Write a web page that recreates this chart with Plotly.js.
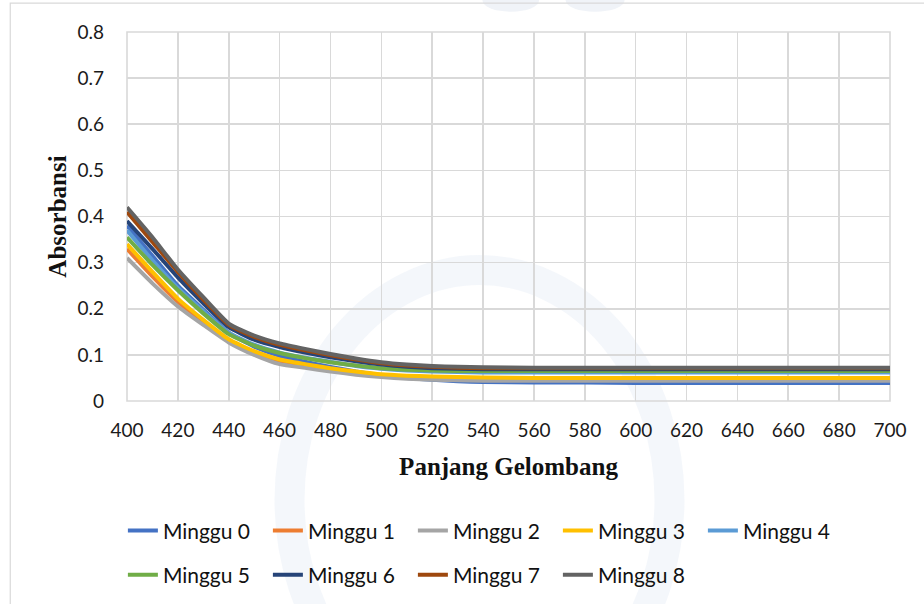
<!DOCTYPE html>
<html>
<head>
<meta charset="utf-8">
<script src="https://cdn.plot.ly/plotly-3.0.1.min.js"></script>
<style>html,body{margin:0;padding:0;background:#fff;}#chart{width:924px;height:604px;}</style>
</head>
<body>
<div id="chart"></div>
<script>
const wavelength = [400,410,420,430,440,450,460,470,480,490,500,510,520,530,540,560,580,600,620,640,660,680,700];
const seriesNames = ["Minggu 0","Minggu 1","Minggu 2","Minggu 3","Minggu 4","Minggu 5","Minggu 6","Minggu 7","Minggu 8"];
const minggu0 = [0.380,0.315,0.250,0.198,0.148,0.118,0.098,0.085,0.074,0.064,0.056,0.050,0.046,0.043,0.041,0.040,0.040,0.039,0.039,0.039,0.039,0.039,0.039];
const minggu1 = [0.330,0.270,0.215,0.170,0.130,0.104,0.086,0.076,0.068,0.061,0.056,0.052,0.050,0.049,0.048,0.047,0.047,0.047,0.047,0.047,0.047,0.047,0.047];
const minggu2 = [0.310,0.255,0.205,0.165,0.127,0.100,0.080,0.072,0.064,0.057,0.052,0.048,0.046,0.045,0.044,0.044,0.044,0.044,0.044,0.044,0.044,0.044,0.044];
const minggu3 = [0.340,0.280,0.222,0.176,0.134,0.108,0.090,0.080,0.071,0.064,0.058,0.055,0.053,0.052,0.051,0.050,0.050,0.050,0.050,0.050,0.050,0.050,0.050];
const minggu4 = [0.370,0.305,0.245,0.195,0.148,0.122,0.105,0.094,0.085,0.076,0.070,0.066,0.064,0.063,0.062,0.062,0.062,0.062,0.062,0.062,0.062,0.062,0.062];
const minggu5 = [0.355,0.295,0.240,0.190,0.145,0.120,0.104,0.093,0.084,0.077,0.071,0.068,0.066,0.065,0.065,0.065,0.065,0.065,0.065,0.065,0.065,0.065,0.065];
const minggu6 = [0.390,0.330,0.268,0.212,0.160,0.133,0.117,0.105,0.095,0.086,0.079,0.074,0.071,0.070,0.069,0.069,0.069,0.069,0.069,0.069,0.069,0.069,0.069];
const minggu7 = [0.410,0.345,0.280,0.220,0.165,0.139,0.122,0.110,0.099,0.090,0.082,0.077,0.074,0.072,0.071,0.071,0.071,0.071,0.071,0.071,0.071,0.071,0.071];
const minggu8 = [0.420,0.355,0.285,0.225,0.168,0.142,0.125,0.113,0.102,0.092,0.084,0.079,0.076,0.074,0.073,0.072,0.072,0.072,0.072,0.072,0.072,0.072,0.072];
const allSeries = [minggu0,minggu1,minggu2,minggu3,minggu4,minggu5,minggu6,minggu7,minggu8];
const colors = ["#4472C4","#ED7D31","#A5A5A5","#FFC000","#5B9BD5","#70AD47","#264478","#9E480E","#636363"];

const traces = allSeries.map((ys, i) => ({
  type: "scatter", mode: "lines", x: wavelength, y: ys, name: seriesNames[i],
  legend: i < 5 ? "legend" : "legend2",
  line: {color: colors[i], width: 4, shape: "spline", smoothing: 0.5}
}));

const gridColor = "#d9d9d9";
const tickFont = {family: "Lato, 'Open Sans', sans-serif", size: 19, color: "#1a1a1a"};
const titleFont = {family: "'Liberation Serif', 'Times New Roman', serif", size: 25, color: "#111", weight: "bold"};
const legendFont = {family: "Lato, 'Open Sans', sans-serif", size: 21, color: "#111"};
const legendBase = {orientation: "h", x: 0.133, xref: "container", xanchor: "left", yanchor: "middle", yref: "container",
  font: legendFont, entrywidth: 100, entrywidthmode: "pixels", bgcolor: "rgba(0,0,0,0)"};

const layout = {
  width: 924, height: 604,
  paper_bgcolor: "#ffffff", plot_bgcolor: "rgba(0,0,0,0)",
  margin: {l: 127, r: 34, t: 32, b: 203},
  font: tickFont,
  showlegend: true,
  legend: Object.assign({}, legendBase, {y: 0.121}),
  legend2: Object.assign({}, legendBase, {y: 0.048}),
  xaxis: {
    range: [400, 700], dtick: 20, tick0: 400,
    showgrid: true, gridcolor: gridColor, gridwidth: 1.6,
    showline: false, zeroline: false, ticks: "", ticklabelstandoff: 16,
    tickfont: tickFont, automargin: false,
    title: {text: "Panjang Gelombang", font: titleFont, standoff: 17}
  },
  yaxis: {
    range: [0, 0.8], dtick: 0.1, tick0: 0,
    showgrid: true, gridcolor: gridColor, gridwidth: 1.6,
    showline: false, zeroline: false, ticks: "", ticklabelstandoff: 22,
    tickformat: "~g", tickfont: tickFont, automargin: false,
    title: {text: "Absorbansi", font: titleFont, standoff: 3}
  },
  shapes: [
    {type: "circle", xref: "paper", yref: "paper", x0: 0.213, x1: 0.711, y0: -0.892, y1: 0.355, line: {color: "rgba(215,225,240,0.28)", width: 30}, layer: "below"},
    {type: "circle", xref: "paper", yref: "paper", x0: 0.466, x1: 0.54, y0: 1.115, y1: 1.055, fillcolor: "rgba(225,232,242,0.5)", line: {width: 0}, layer: "below"},
    {type: "circle", xref: "paper", yref: "paper", x0: 0.575, x1: 0.652, y0: 1.115, y1: 1.055, fillcolor: "rgba(225,232,242,0.5)", line: {width: 0}, layer: "below"},
    {type: "rect", xref: "paper", yref: "paper", x0: 0, x1: 1, y0: 0, y1: 1, line: {color: gridColor, width: 1.6}, layer: "below"},
    {type: "rect", xref: "paper", yref: "paper", x0: -0.153, x1: 1.1, y0: -0.75, y1: 1.078, line: {color: "#d9d9d9", width: 1.2}, layer: "below"}
  ]
};

Plotly.newPlot("chart", traces, layout, {displayModeBar: false, staticPlot: true});
</script>
</body>
</html>
